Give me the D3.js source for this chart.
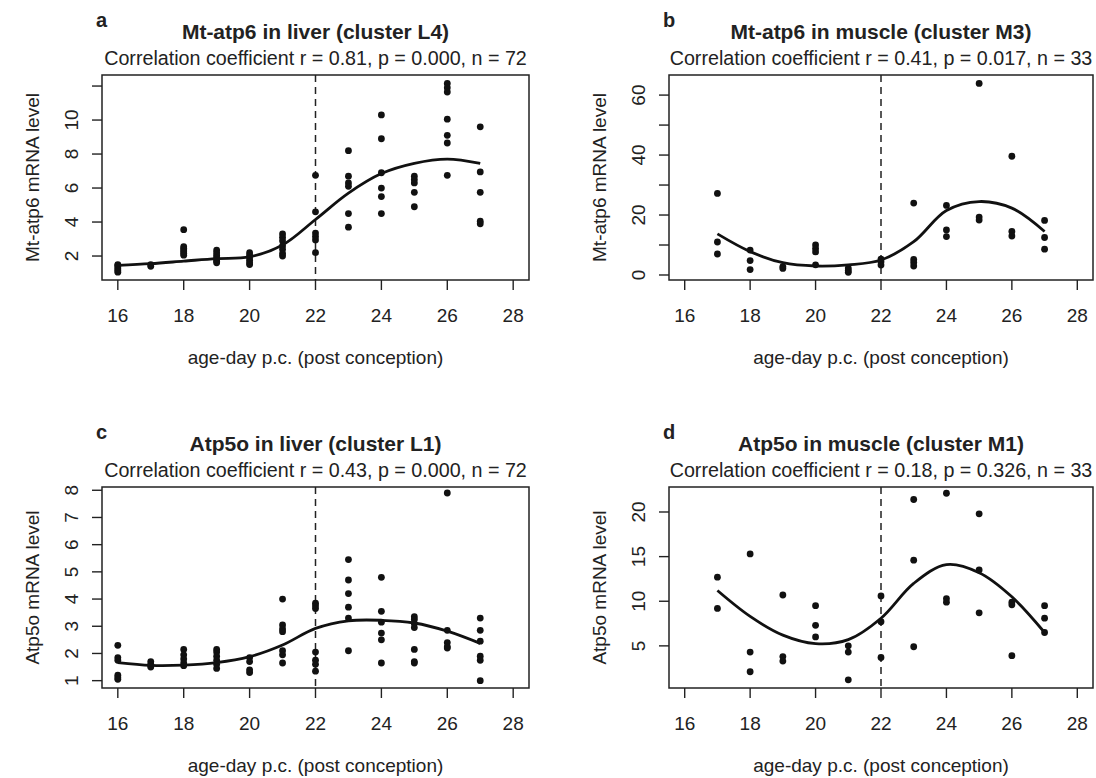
<!DOCTYPE html>
<html>
<head>
<meta charset="utf-8">
<script src="https://cdn.jsdelivr.net/npm/d3@7"></script>
<style>
  body { margin: 0; background: #fff; }
  svg text { font-family: "Liberation Sans", Arial, sans-serif; fill: #222; }
  .title { font-weight: bold; font-size: 21px; }
  .letter { font-weight: bold; font-size: 20px; }
  .sub { font-size: 19.7px; }
  .ticklabel, .axislabel { font-size: 19px; }
</style>
</head>
<body>
<svg id="fig" width="1096" height="778"></svg>
<script>

// x axis, shared by all four panels
var xTicks = [16, 18, 20, 22, 24, 26, 28];
var cutDay = 22;

// ---- a: Mt-atp6 in liver ----
var agesA = [16, 17, 18, 19, 20, 21, 22, 23, 24, 25, 26, 27];
var liverAtp6 = [
  [1.05, 1.15, 1.25, 1.35, 1.45, 1.5],
  [1.4, 1.5],
  [3.55, 2.55, 2.45, 2.35, 2.25, 2.15, 2.05],
  [2.35, 2.2, 2.05, 1.9, 1.8, 1.7, 1.6],
  [2.2, 2.05, 1.9, 1.75, 1.6, 1.5],
  [3.3, 3.1, 2.9, 2.6, 2.4, 2.15, 2.0],
  [6.75, 4.6, 3.35, 3.15, 2.95, 2.2],
  [8.2, 6.7, 6.3, 6.1, 4.5, 3.7],
  [10.3, 8.9, 6.9, 6.0, 5.5, 4.5],
  [6.7, 6.5, 6.3, 5.75, 4.9],
  [12.15, 11.9, 11.65, 10.05, 9.1, 8.65, 6.75],
  [9.6, 6.95, 5.75, 4.05, 3.9]
];
var liverAtp6Fit = [1.45, 1.55, 1.7, 1.85, 1.95, 2.65, 4.15, 5.7, 6.85, 7.45, 7.7, 7.45];
var yTicksA = [2, 4, 6, 8, 10, 12];
var yLabelsA = ["2", "4", "6", "8", "10", ""];

// ---- b: Mt-atp6 in muscle ----
var agesB = [17, 18, 19, 20, 21, 22, 23, 24, 25, 26, 27];
var muscleAtp6 = [
  [27.2, 11, 7],
  [8.3, 4.8, 1.8],
  [2.8, 2.2],
  [10, 8.8, 7.7, 3.4],
  [2.3, 1.5, 0.9],
  [5.3, 4.4, 3.3],
  [24, 5.2, 4.2, 3.0],
  [23.2, 15, 12.8],
  [63.9, 19.3, 18.3],
  [39.6, 14.5, 13],
  [18.2, 12.5, 8.6]
];
var muscleAtp6Fit = [13.7, 7.8, 4.1, 3.0, 3.4, 5.0, 11.1, 21.5, 24.5, 22.3, 14.5];
var yTicksB = [0, 10, 20, 30, 40, 50, 60];
var yLabelsB = ["0", "", "20", "", "40", "", "60"];

// ---- c: Atp5o in liver ----
var agesC = [16, 17, 18, 19, 20, 21, 22, 23, 24, 25, 26, 27];
var liverAtp5o = [
  [2.3, 1.85, 1.75, 1.2, 1.12, 1.05],
  [1.7, 1.6, 1.55, 1.5],
  [2.15, 1.95, 1.8, 1.65, 1.55],
  [2.15, 2.05, 1.9, 1.75, 1.6, 1.45],
  [1.85, 1.7, 1.4, 1.3],
  [4.0, 3.05, 2.9, 2.8, 2.1, 1.95, 1.65],
  [3.85, 3.75, 3.65, 2.05, 1.75, 1.6, 1.35],
  [5.45, 4.7, 4.2, 3.7, 3.3, 2.1],
  [4.8, 3.55, 3.15, 2.75, 2.5, 1.65],
  [3.35, 3.25, 3.1, 2.95, 2.15, 1.7, 1.65],
  [7.9, 2.85, 2.4, 2.25, 2.2],
  [3.3, 2.85, 2.45, 1.9, 1.75, 1.0]
];
var liverAtp5oFit = [1.66, 1.56, 1.57, 1.66, 1.88, 2.31, 2.92, 3.2, 3.22, 3.12, 2.82, 2.37];
var yTicksC = [1, 2, 3, 4, 5, 6, 7, 8];
var yLabelsC = ["1", "2", "3", "4", "5", "6", "7", "8"];

// ---- d: Atp5o in muscle ----
var agesD = [17, 18, 19, 20, 21, 22, 23, 24, 25, 26, 27];
var muscleAtp5o = [
  [12.7, 9.2],
  [15.3, 4.3, 2.1],
  [10.7, 3.8, 3.3],
  [9.5, 7.3, 6.0],
  [5.0, 4.3, 1.2],
  [10.6, 7.7, 3.7],
  [21.4, 14.6, 4.9],
  [22.1, 10.3, 9.9],
  [19.8, 13.5, 8.7],
  [9.9, 9.6, 3.9],
  [9.5, 8.1, 6.5]
];
var muscleAtp5oFit = [11.2, 8.3, 6.2, 5.25, 5.7, 8.1, 12.0, 14.1, 13.2, 10.5, 6.5];
var yTicksD = [5, 10, 15, 20];
var yLabelsD = ["5", "10", "15", "20"];

var svg = d3.select("#fig");
svg.append("rect").attr("width", 1096).attr("height", 778).attr("fill", "#fff");

function drawPanel(p) {
  var g = svg.append("g");

  var x = d3.scaleLinear().domain([15.52, 28.48]).range([p.left, p.right]);
  var y = d3.scaleLinear().domain(p.yDomain).range([p.bottom, p.top]);

  // flatten the groups into points
  var pts = [];
  p.ages.forEach(function(a, i) {
    p.values[i].forEach(function(v) { pts.push({x: a, y: v}); });
  });
  var fit = p.ages.map(function(a, i) { return {x: a, y: p.fit[i]}; });

  // x ticks + labels
  g.selectAll("line.xt").data(xTicks).enter().append("line")
    .attr("x1", x).attr("x2", x)
    .attr("y1", p.bottom).attr("y2", p.bottom + 10)
    .attr("stroke", "#222").attr("stroke-width", 1.4);
  g.selectAll("text.xt").data(xTicks).enter().append("text")
    .attr("class", "ticklabel")
    .attr("x", x).attr("y", p.bottom + 42)
    .attr("text-anchor", "middle")
    .text(function(d) { return d; });

  // y ticks + rotated labels
  g.selectAll("line.yt").data(p.yTicks).enter().append("line")
    .attr("x1", p.left).attr("x2", p.left - 10)
    .attr("y1", y).attr("y2", y)
    .attr("stroke", "#222").attr("stroke-width", 1.4);
  g.selectAll("text.yt").data(p.yTicks).enter().append("text")
    .attr("class", "ticklabel")
    .attr("text-anchor", "middle")
    .attr("transform", function(d) { return "translate(" + (p.left - 24) + "," + y(d) + ") rotate(-90)"; })
    .text(function(d, i) { return p.yLabels[i]; });

  // dashed line at day 22
  g.append("line")
    .attr("x1", x(cutDay)).attr("x2", x(cutDay))
    .attr("y1", p.top).attr("y2", p.bottom)
    .attr("stroke", "#222").attr("stroke-width", 1.5)
    .attr("stroke-dasharray", "7,5");

  // points
  g.selectAll("circle").data(pts).enter().append("circle")
    .attr("cx", function(d) { return x(d.x); })
    .attr("cy", function(d) { return y(d.y); })
    .attr("r", 3.4)
    .attr("fill", "#111");

  // smooth fit
  var line = d3.line()
    .curve(d3.curveCatmullRom.alpha(0.5))
    .x(function(d) { return x(d.x); })
    .y(function(d) { return y(d.y); });
  g.append("path").datum(fit)
    .attr("d", line)
    .attr("fill", "none").attr("stroke", "#111").attr("stroke-width", 2.8);

  // frame
  g.append("rect")
    .attr("x", p.left).attr("y", p.top)
    .attr("width", p.right - p.left).attr("height", p.bottom - p.top)
    .attr("fill", "none").attr("stroke", "#222").attr("stroke-width", 1.5);

  // headers
  var cx = (p.left + p.right) / 2;
  g.append("text").attr("class", "letter")
    .attr("x", p.left - 6).attr("y", p.top - 48).text(p.letter);
  g.append("text").attr("class", "title")
    .attr("x", cx).attr("y", p.top - 36)
    .attr("text-anchor", "middle").text(p.title);
  g.append("text").attr("class", "sub")
    .attr("x", cx).attr("y", p.top - 10)
    .attr("text-anchor", "middle").text(p.sub);

  // axis titles
  g.append("text").attr("class", "axislabel")
    .attr("x", cx).attr("y", p.bottom + 84)
    .attr("text-anchor", "middle").text("age-day p.c. (post conception)");
  g.append("text").attr("class", "axislabel")
    .attr("text-anchor", "middle")
    .attr("transform", "translate(" + (p.left - 63) + "," + ((p.top + p.bottom) / 2) + ") rotate(-90)")
    .text(p.yTitle);
}

drawPanel({ letter: "a", title: "Mt-atp6 in liver (cluster L4)",
  sub: "Correlation coefficient r = 0.81, p = 0.000, n = 72",
  yTitle: "Mt-atp6 mRNA level",
  ages: agesA, values: liverAtp6, fit: liverAtp6Fit,
  yTicks: yTicksA, yLabels: yLabelsA, yDomain: [0.59, 12.65],
  left: 102, right: 529, top: 75, bottom: 280 });

drawPanel({ letter: "b", title: "Mt-atp6 in muscle (cluster M3)",
  sub: "Correlation coefficient r = 0.41, p = 0.017, n = 33",
  yTitle: "Mt-atp6 mRNA level",
  ages: agesB, values: muscleAtp6, fit: muscleAtp6Fit,
  yTicks: yTicksB, yLabels: yLabelsB, yDomain: [-1.67, 66.7],
  left: 669, right: 1093, top: 75, bottom: 280 });

drawPanel({ letter: "c", title: "Atp5o in liver (cluster L1)",
  sub: "Correlation coefficient r = 0.43, p = 0.000, n = 72",
  yTitle: "Atp5o mRNA level",
  ages: agesC, values: liverAtp5o, fit: liverAtp5oFit,
  yTicks: yTicksC, yLabels: yLabelsC, yDomain: [0.73, 8.12],
  left: 102, right: 529, top: 487, bottom: 688 });

drawPanel({ letter: "d", title: "Atp5o in muscle (cluster M1)",
  sub: "Correlation coefficient r = 0.18, p = 0.326, n = 33",
  yTitle: "Atp5o mRNA level",
  ages: agesD, values: muscleAtp5o, fit: muscleAtp5oFit,
  yTicks: yTicksD, yLabels: yLabelsD, yDomain: [0.28, 22.8],
  left: 669, right: 1093, top: 487, bottom: 688 });

</script>
</body>
</html>
